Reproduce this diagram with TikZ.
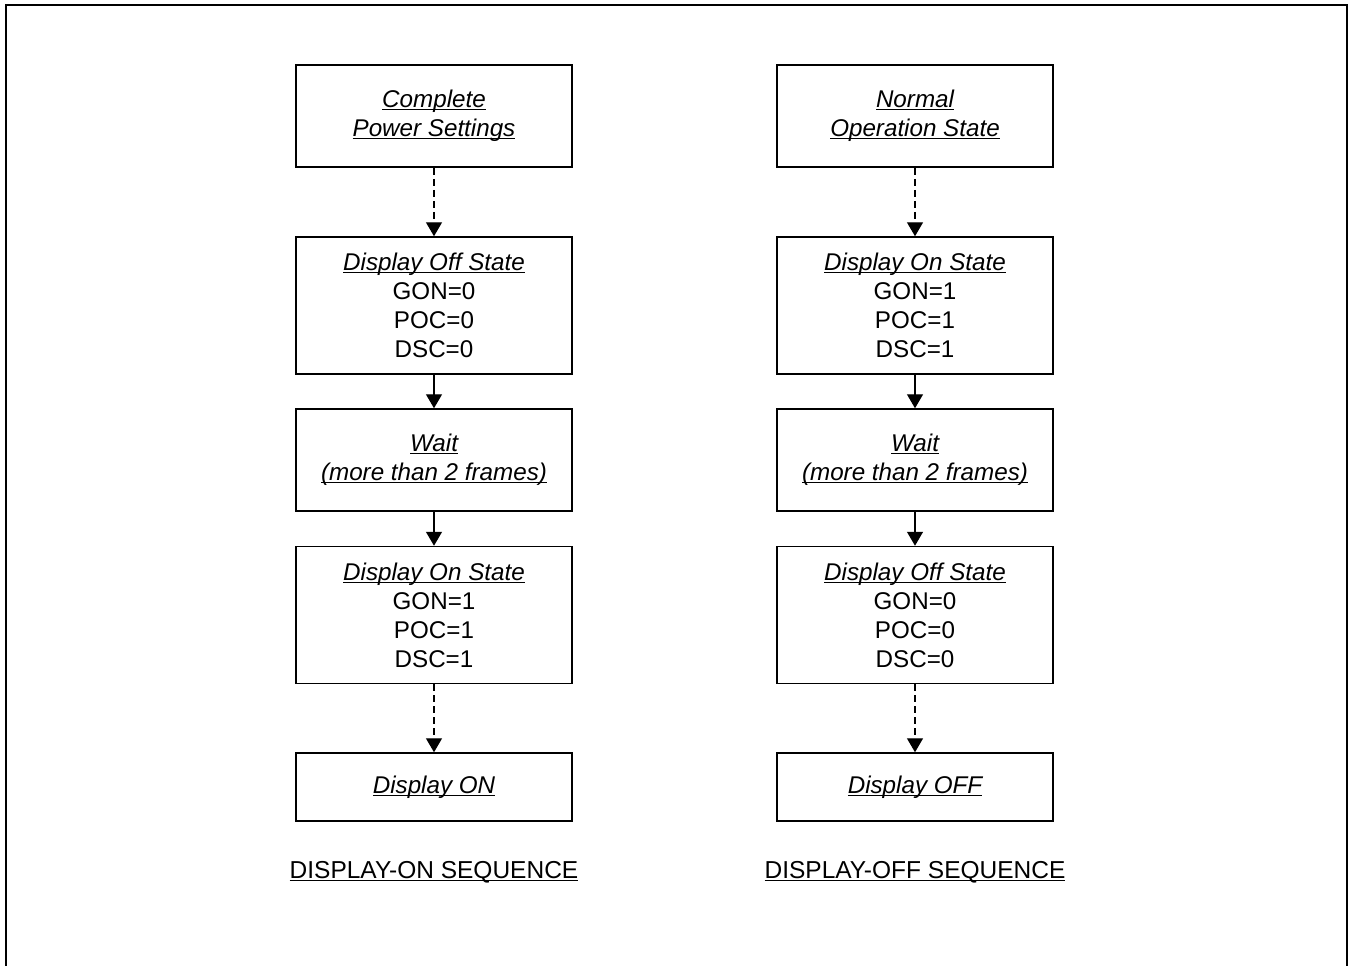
\documentclass[tikz,border=0pt]{standalone}
\usepackage{fontspec}
\setmainfont{Liberation Sans}
\usetikzlibrary{arrows.meta}
\newcommand\myul[1]{\setbox0\hbox{#1}\rlap{\rule[-2.6pt]{\wd0}{1.2pt}}\box0}
\tikzset{
  stbox/.style={draw, line width=1.5pt, rectangle, minimum width=276pt, align=center,
     inner sep=0pt, font=\fontsize{24.2}{29}\selectfont},
  conn/.style={line width=1.4pt, -{Triangle[width=16pt,length=14pt]}},
  dconn/.style={conn, dash pattern=on 7pt off 4pt},
  ttl/.style={font=\fontsize{24.5}{29}\selectfont, inner sep=0pt}
}
\begin{document}
\begin{tikzpicture}[x=1pt,y=-1pt]
\useasboundingbox (0,0) rectangle (1352,966);
\draw[line width=2pt] (6,975) -- (6,5) -- (1347,5) -- (1347,975);
% left column
\node[stbox, minimum height=102pt] (l1) at (434,116) {\myul{\itshape Complete}\\\myul{\itshape Power Settings}};
\node[stbox, minimum height=137pt] (l2) at (434,305.5) {\myul{\itshape Display Off State}\\GON=0\\POC=0\\DSC=0};
\node[stbox, minimum height=102pt] (l3) at (434,460) {\myul{\itshape Wait}\\\myul{\itshape (more than 2 frames)}};
\node[stbox, minimum height=137pt] (l4) at (434,615) {\myul{\itshape Display On State}\\GON=1\\POC=1\\DSC=1};
\node[stbox, minimum height=68pt] (l5) at (434,787) {\myul{\itshape Display ON}};
\node[ttl] (lt) at (434,872) {\myul{DISPLAY-ON SEQUENCE}};
% right column
\node[stbox, minimum height=102pt] (r1) at (915,116) {\myul{\itshape Normal}\\\myul{\itshape Operation State}};
\node[stbox, minimum height=137pt] (r2) at (915,305.5) {\myul{\itshape Display On State}\\GON=1\\POC=1\\DSC=1};
\node[stbox, minimum height=102pt] (r3) at (915,460) {\myul{\itshape Wait}\\\myul{\itshape (more than 2 frames)}};
\node[stbox, minimum height=137pt] (r4) at (915,615) {\myul{\itshape Display Off State}\\GON=0\\POC=0\\DSC=0};
\node[stbox, minimum height=68pt] (r5) at (915,787) {\myul{\itshape Display OFF}};
\node[ttl] (rt) at (915,872) {\myul{DISPLAY-OFF SEQUENCE}};
% connectors
\draw[dconn] (l1) -- (l2);
\draw[conn] (l2) -- (l3);
\draw[conn] (l3) -- (l4);
\draw[dconn] (l4) -- (l5);
\draw[dconn] (r1) -- (r2);
\draw[conn] (r2) -- (r3);
\draw[conn] (r3) -- (r4);
\draw[dconn] (r4) -- (r5);
\end{tikzpicture}
\end{document}
